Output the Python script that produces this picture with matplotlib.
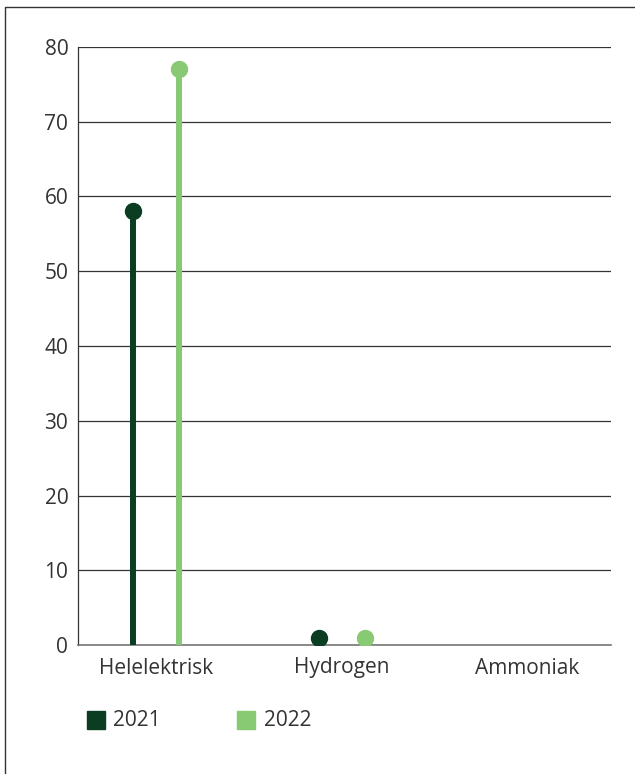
import matplotlib
matplotlib.use("Agg")
import matplotlib.pyplot as plt
import numpy as np
from matplotlib.lines import Line2D
from matplotlib.patches import Rectangle

categories = ["Helelektrisk", "Hydrogen", "Ammoniak"]
series_names = ["2021", "2022"]
values_2021 = [58, 1, np.nan]
values_2022 = [77, 1, np.nan]
yticks = [0, 10, 20, 30, 40, 50, 60, 70, 80]

dark = "#0b3d23"
light = "#88c973"
text_c = "#333333"

plt.rcParams['font.family'] = ['Open Sans', 'DejaVu Sans']

fig = plt.figure(figsize=(6.35, 7.74), dpi=100)
ax = fig.add_axes([78/635, 1-645/774, (611-78)/635, (645-47)/774])

x = np.arange(len(categories))
off = 0.125
for vals, color, dx in [(values_2021, dark, -off), (values_2022, light, off)]:
    for xi, v in zip(x, vals):
        if np.isnan(v):
            continue
        ax.plot([xi+dx, xi+dx], [0, v], color=color, lw=4.3, solid_capstyle='butt', zorder=3)
        ax.plot([xi+dx], [v], 'o', color=color, ms=11.5, zorder=4)

ax.set_xlim(-0.42, 2.45)
ax.set_ylim(0, 80)
ax.set_yticks(yticks)
ax.set_xticks(x)
ax.set_xticklabels(categories)
ax.yaxis.grid(True, color="#333333", lw=0.9)
ax.set_axisbelow(True)
for s in ['top', 'right']:
    ax.spines[s].set_visible(False)
ax.spines['left'].set_color("#333333")
ax.spines['left'].set_linewidth(0.9)
ax.spines['bottom'].set_color("#777777")
ax.spines['bottom'].set_linewidth(1.2)
ax.tick_params(axis='both', length=0, labelsize=15, colors=text_c, pad=9)
ax.tick_params(axis='y', pad=7)

# legend
fig.patches.append(Rectangle((87/635, 1-729/774), 18/635, 18/774, transform=fig.transFigure, color=dark))
fig.text(113/635, 1-720/774, series_names[0], fontsize=15, color=text_c, va='center', ha='left')
fig.patches.append(Rectangle((237/635, 1-729/774), 18/635, 18/774, transform=fig.transFigure, color=light))
fig.text(264/635, 1-720/774, series_names[1], fontsize=15, color=text_c, va='center', ha='left')

# outer border (top & left)
fig.lines.append(Line2D([5/635, 5/635, 1.0], [0, 1-6.5/774, 1-6.5/774], transform=fig.transFigure, color="#333333", lw=1))

fig.savefig("out.png", dpi=100)
